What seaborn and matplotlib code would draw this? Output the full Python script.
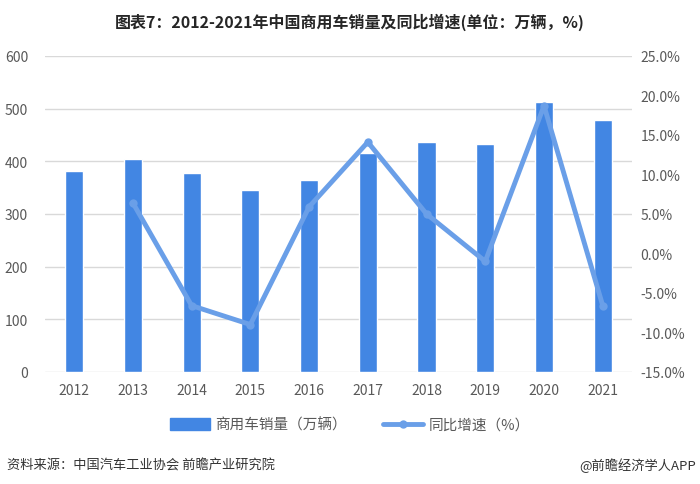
import matplotlib
matplotlib.use("Agg")
import matplotlib.pyplot as plt
import seaborn as sns
import pandas as pd
import numpy as np
from matplotlib.lines import Line2D
from matplotlib.patches import Patch

years = ["2012", "2013", "2014", "2015", "2016", "2017", "2018", "2019", "2020", "2021"]
sales = [381.5, 404.3, 378.3, 345.6, 364.8, 415.8, 437.3, 432.9, 512.6, 478.4]
growth = [np.nan, 6.4, -6.6, -9.0, 5.9, 14.1, 5.0, -1.0, 18.7, -6.6]
left_ticks = [0, 100, 200, 300, 400, 500, 600]
right_ticks = [-15, -10, -5, 0, 5, 10, 15, 20, 25]

sns.set_theme(style="white")
plt.rcParams['font.family'] = ['Noto Sans CJK SC', 'DejaVu Sans']

bar_color = "#4286e3"
line_color = "#6a9fe8"
text_color = "#595959"

df = pd.DataFrame({"year": years, "sales": sales, "growth": growth})
df["pos"] = np.arange(len(years))

fig = plt.figure(figsize=(7, 4.85), dpi=100)
ax = fig.add_axes([0.064, 0.231, 0.839, 0.6515])

sns.barplot(data=df, x="pos", y="sales", color=bar_color, width=0.31,
            saturation=1, ax=ax, native_scale=True)
ax.set_xlim(-0.5, len(years) - 0.5)
ax.set_ylim(0, 600)
ax.set_yticks(left_ticks)
ax.set_xticks(df["pos"])
ax.set_xticklabels(years)
ax.set_xlabel("")
ax.set_ylabel("")
ax.grid(axis="y", color="#d9d9d9", linewidth=1)
ax.set_axisbelow(True)
for s in ax.spines.values():
    s.set_visible(False)
ax.tick_params(axis="both", length=0, colors=text_color, labelsize=10)
ax.tick_params(axis="y", pad=12)
ax.tick_params(axis="x", pad=8)

ax2 = ax.twinx()
sns.lineplot(data=df.dropna(), x="pos", y="growth", color=line_color, linewidth=3.5,
             marker="o", markersize=6, markeredgewidth=0, ax=ax2)
ax2.set_ylim(-15, 25)
ax2.set_yticks(right_ticks)
ax2.set_yticklabels([f"{v:.1f}%" for v in right_ticks])
ax2.set_ylabel("")
ax2.set_xlabel("")
for s in ax2.spines.values():
    s.set_visible(False)
ax2.tick_params(axis="y", length=0, colors=text_color, labelsize=10, pad=6)
ax2.set_xlim(-0.5, len(years) - 0.5)

fig.text(0.5, 0.955, "图表7：2012-2021年中国商用车销量及同比增速(单位：万辆，%)",
         ha="center", va="center", fontsize=11.5, fontweight="bold", color="#262626")

handles = [Patch(color=bar_color),
           Line2D([0], [0], color=line_color, linewidth=3.5, marker="o", markersize=6,
                  markeredgewidth=0)]
fig.legend(handles, ["商用车销量（万辆）", "同比增速（%）"], loc="center",
           bbox_to_anchor=(0.5, 0.122), ncol=2, frameon=False, fontsize=10.5,
           handlelength=2.7, handleheight=0.8, columnspacing=2.5, handletextpad=0.4,
           labelcolor=text_color)

fig.text(0.01, 0.04, "资料来源：中国汽车工业协会 前瞻产业研究院", ha="left", va="center",
         fontsize=9.5, color="#333333")
fig.text(0.995, 0.04, "@前瞻经济学人APP", ha="right", va="center",
         fontsize=9.5, color="#333333")

fig.savefig("out.png", dpi=100)
